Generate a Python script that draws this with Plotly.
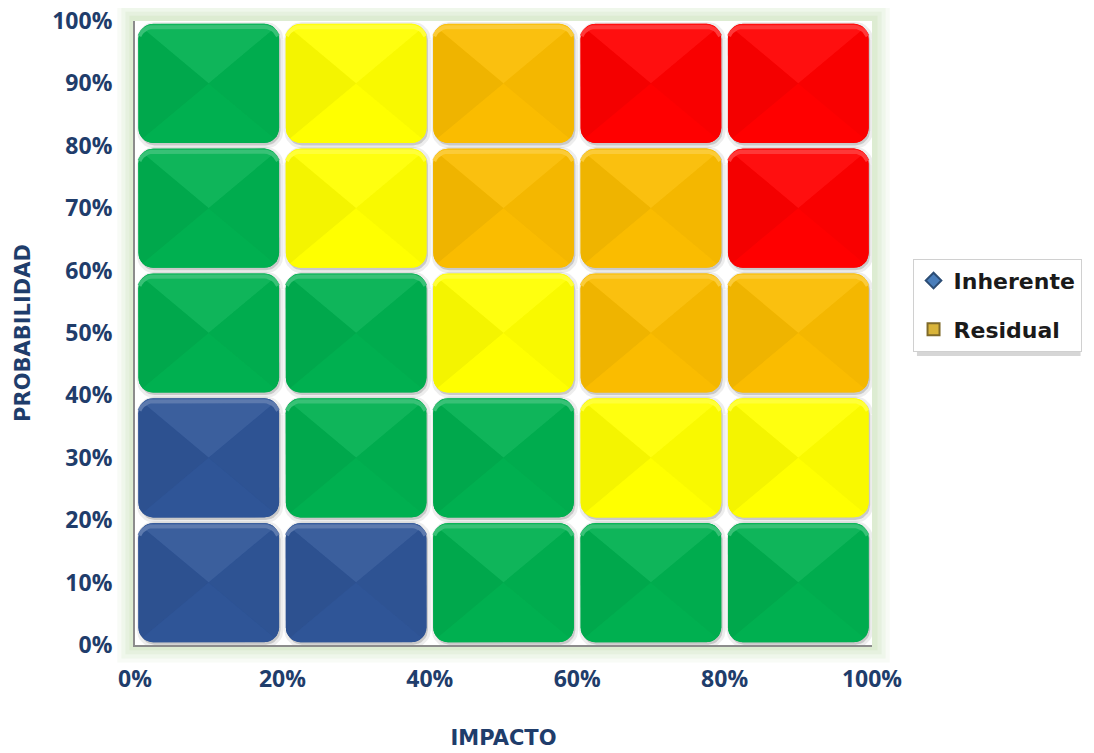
import numpy as np
import plotly.graph_objects as go

# risk matrix: rows from low to high probability, columns from low to high impact
impact_ticks = [0, 20, 40, 60, 80, 100]
prob_ticks = [0, 10, 20, 30, 40, 50, 60, 70, 80, 90, 100]
impact_bins = [0, 20, 40, 60, 80]
prob_bins = [0, 20, 40, 60, 80]
risk_levels = [
    ["blue", "blue", "green", "green", "green"],
    ["blue", "green", "green", "yellow", "yellow"],
    ["green", "green", "yellow", "orange", "orange"],
    ["green", "yellow", "orange", "orange", "red"],
    ["green", "yellow", "orange", "red", "red"],
]
legend_names = ["Inherente", "Residual"]

PALETTE = {
    "green": (0, 176, 80),
    "yellow": (255, 255, 0),
    "orange": (250, 188, 0),
    "red": (255, 0, 0),
    "blue": (47, 85, 151),
}
NAVY = "#1f3d6b"
TITLE_FONT = "DejaVu Sans"


def mix(rgb, other, t):
    r, g, b = [int(round(c * (1 - t) + o * t)) for c, o in zip(rgb, other)]
    return f"rgb({r},{g},{b})"


def corner_arcs(x0, x1, y0, y1, rx, ry, n=9):
    arcs = []
    centers = [(x1 - rx, y1 - ry), (x0 + rx, y1 - ry), (x0 + rx, y0 + ry), (x1 - rx, y0 + ry)]
    for k, (cx, cy) in enumerate(centers):
        a = np.linspace(k * np.pi / 2, (k + 1) * np.pi / 2, n)
        arcs.append(list(zip(cx + rx * np.cos(a), cy + ry * np.sin(a))))
    return arcs


def poly(points, color, line_color=None, width=0):
    xs = [p[0] for p in points] + [points[0][0]]
    ys = [p[1] for p in points] + [points[0][1]]
    return go.Scatter(x=xs, y=ys, mode="lines", fill="toself", fillcolor=color,
                      line=dict(color=line_color or color, width=width),
                      hoverinfo="skip", showlegend=False)


fig = go.Figure()

pad, rx, ry = 0.45, 2.0, 2.4
for i, py in enumerate(prob_bins):
    for j, px_ in enumerate(impact_bins):
        base = PALETTE[risk_levels[i][j]]
        x0, x1 = px_ + pad, px_ + 20 - pad
        y0, y1 = py + pad, py + 20 - pad
        arcs = corner_arcs(x0, x1, y0, y1, rx, ry)
        outline = [p for arc in arcs for p in arc]
        # soft shadow
        sh = corner_arcs(x0 + 0.2, x1 + 0.2, y0 - 0.4, y1 - 0.2, rx, ry)
        fig.add_trace(poly([p for arc in sh for p in arc], "rgba(0,0,0,0.15)",
                           "rgba(0,0,0,0.07)", 6))
        fig.add_trace(poly(outline, mix(base, (0, 0, 0), 0.02)))
        cx, cy = (x0 + x1) / 2, (y0 + y1) / 2
        tr, tl, bl, br = arcs
        facets = [
            (tr[4:] + tl[:5], mix(base, (255, 255, 255), 0.06)),  # top
            (tl[4:] + bl[:5], mix(base, (0, 0, 0), 0.045)),       # left
            (bl[4:] + br[:5], mix(base, (0, 0, 0), 0.0)),         # bottom
            (br[4:] + tr[:5], mix(base, (0, 0, 0), 0.025)),       # right
        ]
        for pts, col in facets:
            fig.add_trace(poly([(cx, cy)] + pts, col))
        # glossy top edge
        edge = tr[2:] + tl[:7]
        fig.add_trace(go.Scatter(x=[p[0] for p in edge], y=[p[1] - 0.5 for p in edge],
                                 mode="lines", line=dict(color=mix(base, (255, 255, 255), 0.22), width=4),
                                 hoverinfo="skip", showlegend=False))

# legend entries
fig.add_trace(go.Scatter(x=[None], y=[None], mode="markers", name=legend_names[0], legendgroup="a",
                         marker=dict(symbol="diamond", size=13, color="#4a7ebb",
                                     line=dict(color="#2c4d75", width=1))))
fig.add_trace(go.Scatter(x=[None], y=[None], mode="markers", name=legend_names[1], legendgroup="b",
                         marker=dict(symbol="square", size=12, color="#d9b43a",
                                     line=dict(color="#7f6a2a", width=1))))

shapes = []
# greenish glow around the plot area
for k, op in enumerate([0.15, 0.22, 0.3, 0.45]):
    e = 0.024 - k * 0.0055
    ey = 0.028 - k * 0.0065
    shapes.append(dict(type="rect", xref="paper", yref="paper", x0=-e, x1=1 + e, y0=-ey, y1=1 + ey,
                       fillcolor=f"rgba(210,230,195,{op})", line=dict(width=0), layer="below"))
shapes.append(dict(type="rect", xref="paper", yref="paper", x0=0, x1=1, y0=0, y1=1,
                   fillcolor="white", line=dict(width=0), layer="below"))
# legend drop shadow
shapes.append(dict(type="rect", xref="paper", yref="paper", x0=1.061, x1=1.283, y0=0.463, y1=0.610,
                   fillcolor="rgba(0,0,0,0.16)", line=dict(width=0), layer="below"))

# the page adds an 8px body margin, so the figure is a little smaller than the window
fig.update_layout(
    width=1086, height=745,
    margin=dict(l=127, r=214, t=13, b=108),
    paper_bgcolor="white", plot_bgcolor="rgba(0,0,0,0)",
    font=dict(family="Open Sans", color=NAVY),
    shapes=shapes,
    showlegend=True,
    legend=dict(x=1.055, y=0.619, xanchor="left", yanchor="top",
                bgcolor="white", bordercolor="#d0d0d0", borderwidth=1,
                tracegroupgap=17,
                font=dict(family=TITLE_FONT, size=22, color="#1a1a1a", weight="bold"),
                itemsizing="constant"),
)
fig.update_xaxes(range=[0, 100], tickvals=impact_ticks, ticktext=[f"{v}%" for v in impact_ticks],
                 automargin=False, ticklabeloverflow="allow",
                 showgrid=False, zeroline=False, showline=True, linecolor="#8c8c8c", linewidth=2,
                 ticks="outside", ticklen=12, tickcolor="rgba(0,0,0,0)",
                 tickfont=dict(size=23, color=NAVY, weight="bold"),
                 title=dict(text="IMPACTO", standoff=38,
                            font=dict(family=TITLE_FONT, size=21, color=NAVY, weight="bold")))
fig.update_yaxes(range=[0, 100], tickvals=prob_ticks, ticktext=[f"{v}%" for v in prob_ticks],
                 automargin=False, ticklabeloverflow="allow",
                 showgrid=False, zeroline=False, showline=True, linecolor="#8c8c8c", linewidth=2,
                 ticks="outside", ticklen=16, tickcolor="rgba(0,0,0,0)",
                 tickfont=dict(size=23, color=NAVY, weight="bold"),
                 title=dict(text="PROBABILIDAD", standoff=16,
                            font=dict(family=TITLE_FONT, size=21, color=NAVY, weight="bold")))

fig.write_html("out.html")
